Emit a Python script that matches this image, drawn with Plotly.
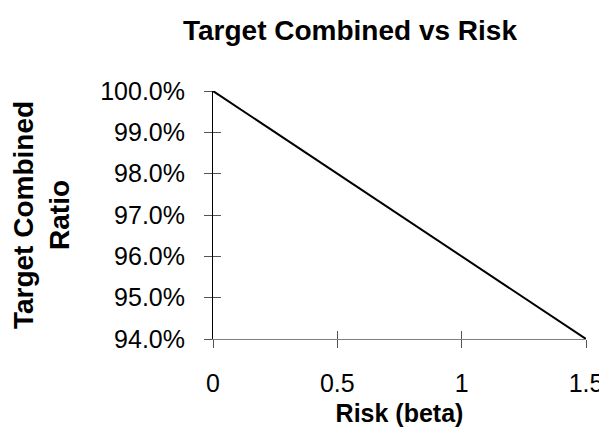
import plotly.graph_objects as go

risk_beta = [0, 0.5, 1.0, 1.5]
target_combined_ratio = [1.00, 0.98, 0.96, 0.94]
x_ticks = [0, 0.5, 1.0, 1.5]
x_tick_labels = ["0", "0.5", "1", "1.5"]
y_ticks = [0.94, 0.95, 0.96, 0.97, 0.98, 0.99, 1.00]

FONT = "Arial, Liberation Sans, sans-serif"

fig = go.Figure()
fig.add_trace(go.Scatter(x=risk_beta, y=target_combined_ratio, mode="lines",
                         line=dict(color="black", width=2), showlegend=False,
                         hoverinfo="skip", cliponaxis=False))
# invisible trace for overlay axes (inside half of crossing ticks)
fig.add_trace(go.Scatter(x=risk_beta, y=target_combined_ratio, mode="lines",
                         line=dict(color="rgba(0,0,0,0)", width=0), showlegend=False,
                         xaxis="x2", yaxis="y2", hoverinfo="skip"))

fig.update_layout(
    width=607, height=432,
    margin=dict(l=201, r=21, t=83, b=101),
    paper_bgcolor="white", plot_bgcolor="white",
    font=dict(family=FONT, color="black"),
    title=dict(text="<b>Target Combined vs Risk</b>", x=342/607, xanchor="center",
               y=1 - 22/432, yanchor="middle", yref="container",
               font=dict(size=28, family=FONT, color="black")),
    xaxis=dict(range=[0, 1.5], tickvals=x_ticks, ticktext=x_tick_labels,
               showgrid=False, zeroline=False, showline=True, linecolor="#808080", linewidth=1,
               ticks="outside", ticklen=8, tickcolor="#555555", tickwidth=1,
               tickfont=dict(size=25, family=FONT), ticklabelstandoff=14,
               title=dict(text="<b>Risk (beta)</b>", font=dict(size=25, family=FONT), standoff=8)),
    yaxis=dict(range=[0.94, 1.00], tickvals=y_ticks, tickformat=".1%",
               showgrid=False, zeroline=False, showline=True, linecolor="black", linewidth=1,
               ticks="outside", ticklen=8, tickcolor="#555555", tickwidth=1,
               tickfont=dict(size=25, family=FONT), ticklabelstandoff=14,
               title=dict(text="<b>Target Combined<br>Ratio</b>", font=dict(size=28, family=FONT), standoff=24)),
    xaxis2=dict(range=[0, 1.5], tickvals=x_ticks, showticklabels=False, overlaying="x",
                anchor="y2", showgrid=False, zeroline=False, showline=False,
                ticks="inside", ticklen=8, tickcolor="#555555", tickwidth=1, side="bottom"),
    yaxis2=dict(range=[0.94, 1.00], tickvals=y_ticks, showticklabels=False, overlaying="y",
                anchor="x2", showgrid=False, zeroline=False, showline=False,
                ticks="inside", ticklen=8, tickcolor="#555555", tickwidth=1, side="left"),
)

fig.write_html("out.html")
